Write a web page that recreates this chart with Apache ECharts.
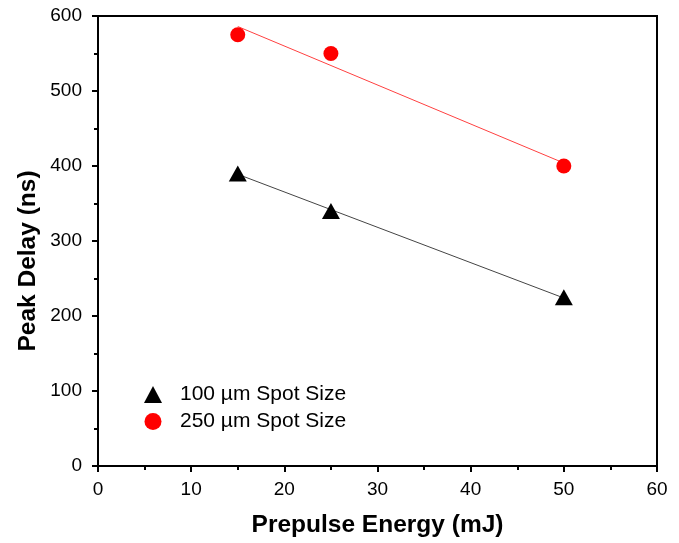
<!DOCTYPE html>
<html><head><meta charset="utf-8">
<script src="https://cdn.jsdelivr.net/npm/echarts@6/dist/echarts.min.js"></script>
<style>html,body{margin:0;padding:0;background:#fff}#c{width:679px;height:543px}</style>
</head><body><div id="c"></div>
<script>
const energy = [15, 25, 50];
const delay100 = [390, 340, 225];
const delay250 = [575, 550, 400];
const fit100 = [[15, 389], [50, 224]];
const fit250 = [[15, 586], [50, 404]];
const xTicks = [0, 10, 20, 30, 40, 50, 60];
const yTicks = [0, 100, 200, 300, 400, 500, 600];

const font = '"Liberation Sans", Arial, sans-serif';
const chart = echarts.init(document.getElementById('c'));
const axisCommon = {
  axisLine: {show: true, onZero: false, lineStyle: {color: '#000', width: 2}},
  axisTick: {show: true, inside: false, length: 6, lineStyle: {color: '#000', width: 2}},
  minorTick: {show: true, splitNumber: 2, length: 4, lineStyle: {color: '#000', width: 2}},
  splitLine: {show: false},
  axisLabel: {color: '#000', fontSize: 19, fontFamily: font, margin: 14},
  nameTextStyle: {color: '#000', fontSize: 24.5, fontWeight: 'bold', fontFamily: font}
};
chart.setOption({
  animation: false,
  grid: {left: 98, top: 16, right: 22, bottom: 76, show: true, borderColor: '#000', borderWidth: 2, containLabel: false},
  xAxis: Object.assign({}, axisCommon, {
    type: 'value', min: xTicks[0], max: xTicks[xTicks.length - 1], interval: 10,
    name: 'Prepulse Energy (mJ)', nameLocation: 'middle', nameGap: 47
  }),
  yAxis: Object.assign({}, axisCommon, {
    type: 'value', min: yTicks[0], max: yTicks[yTicks.length - 1], interval: 100,
    axisLabel: Object.assign({}, axisCommon.axisLabel, {margin: 16})
  }),
  graphic: [{
    type: 'text', x: 28, y: 261, rotation: Math.PI / 2,
    style: {text: 'Peak Delay (ns)', fill: '#000', font: 'bold 24.5px ' + font, align: 'center', verticalAlign: 'middle'}
  }],
  legend: {
    orient: 'vertical', left: 139, top: 379, itemGap: 6, itemWidth: 18, itemHeight: 17,
    textStyle: {color: '#000', fontSize: 21, fontFamily: font, padding: [0, 0, 0, 13]},
    data: ['100 µm Spot Size', '250 µm Spot Size']
  },
  series: [
    {type: 'line', data: fit100, symbol: 'none', lineStyle: {color: '#444', width: 1}, silent: true, z: 1},
    {type: 'line', data: fit250, symbol: 'none', lineStyle: {color: '#ff4040', width: 1}, silent: true, z: 1},
    {name: '100 µm Spot Size', type: 'scatter', symbol: 'triangle', symbolSize: [18, 16],
      itemStyle: {color: '#000', opacity: 1}, data: energy.map((e, i) => [e, delay100[i]]), z: 3},
    {name: '250 µm Spot Size', type: 'scatter', symbol: 'circle', symbolSize: 15,
      itemStyle: {color: '#ff0000', opacity: 1}, data: energy.map((e, i) => [e, delay250[i]]), z: 3}
  ]
});
</script></body></html>
